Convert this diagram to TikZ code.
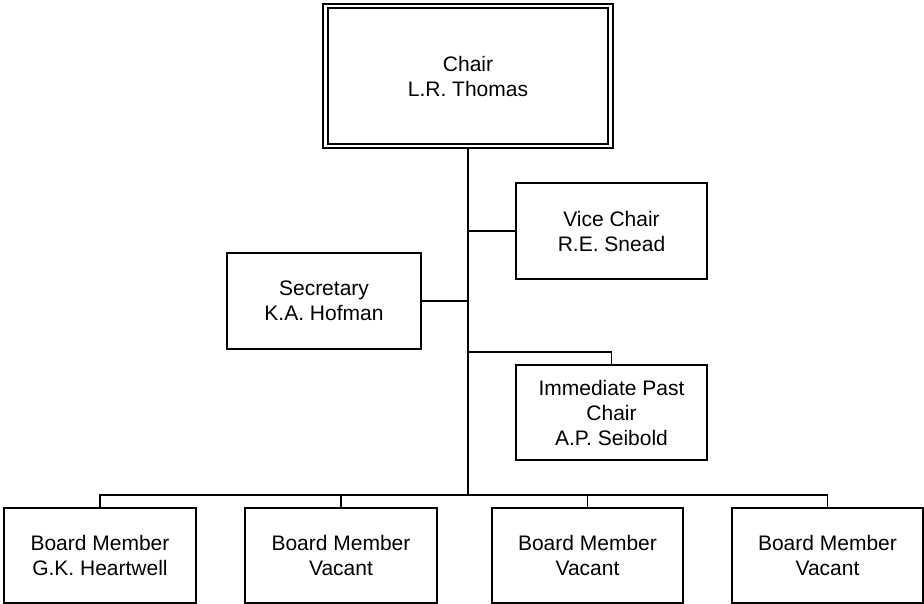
\documentclass[tikz,border=0pt]{standalone}
\usepackage{fontspec}
\setmainfont{Liberation Sans}
\usetikzlibrary{calc}
\begin{document}
\begin{tikzpicture}[x=1pt,y=-1pt,
  box/.style={draw=black,line width=1.6pt,rectangle,align=center,inner sep=0pt,
    font=\fontsize{21}{25}\selectfont},
  link/.style={draw=black,line width=1.4pt},
  innerline/.style={draw=black,line width=1.4pt}]
\useasboundingbox (0,0) rectangle (924,604);
\node[box,line width=2pt,minimum width=290pt,minimum height=144pt] (chair) at (468,76) {Chair\\L.R. Thomas};
\draw[innerline] ($(chair.north west)+(6,5)$) rectangle ($(chair.south east)+(-6,-5)$);
\node[box,minimum width=191pt,minimum height=96pt] (vice) at (611.5,231) {Vice Chair\\R.E. Snead};
\node[box,minimum width=194pt,minimum height=96pt] (sec) at (324,301) {Secretary\\K.A. Hofman};
\node[box,minimum width=191pt,minimum height=95pt] (ipc) at (611.5,412.5) {Immediate Past\\Chair\\A.P. Seibold};
\node[box,minimum width=192pt,minimum height=95pt] (b1) at (100,555.5) {Board Member\\G.K. Heartwell};
\node[box,minimum width=192pt,minimum height=95pt] (b2) at (341,555.5) {Board Member\\Vacant};
\node[box,minimum width=191pt,minimum height=95pt] (b3) at (587.5,555.5) {Board Member\\Vacant};
\node[box,minimum width=191pt,minimum height=95pt] (b4) at (827.5,555.5) {Board Member\\Vacant};
\coordinate (bus) at (468,495);
\coordinate (ipcj) at (468,352);
\draw[link,line width=1.6pt] (chair.south) -- (bus);
\draw[link] (vice.west) -- (vice.west -| chair.south);
\draw[link] (sec.east) -- (sec.east -| chair.south);
\draw[link] (ipcj) -| (ipc.north);
\draw[link] (b1.north) |- (bus) -| (b4.north);
\draw[link] (b2.north) -- (b2.north |- bus);
\draw[link] (b3.north) -- (b3.north |- bus);
\end{tikzpicture}
\end{document}
